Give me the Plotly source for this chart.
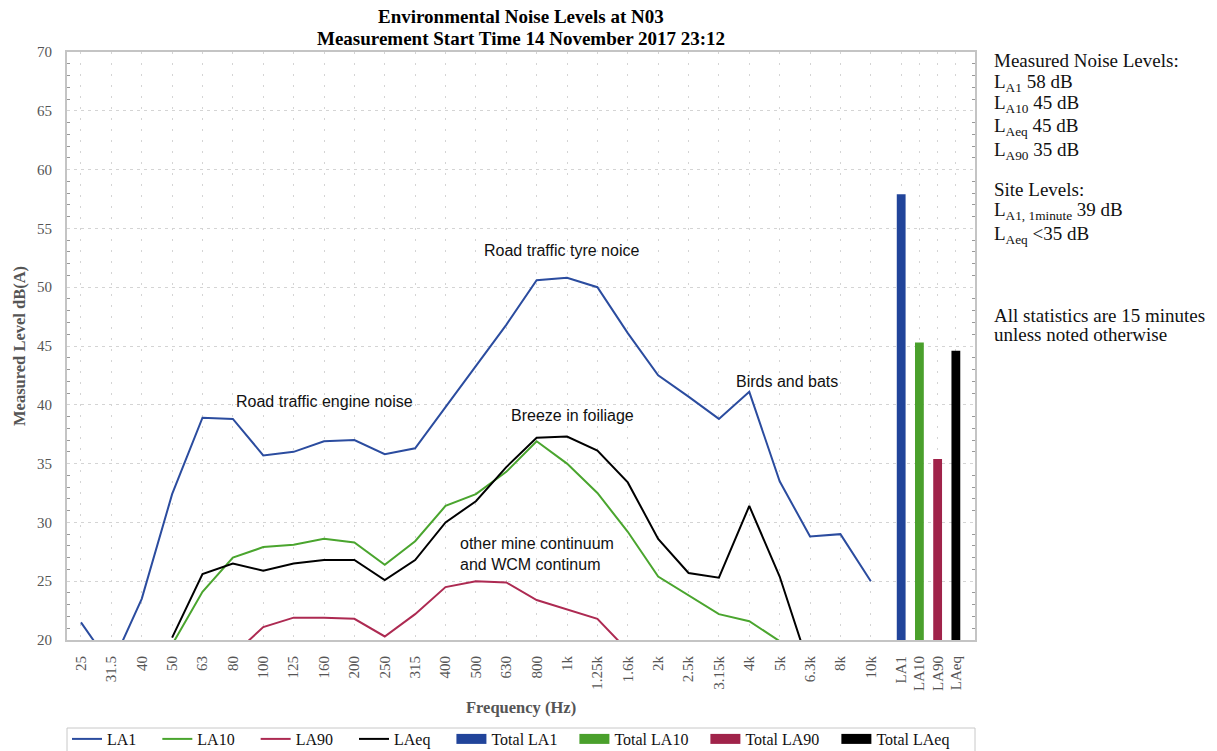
import plotly.graph_objects as go

# ---- data ----
freq_labels = ["25", "31.5", "40", "50", "63", "80", "100", "125", "160", "200",
               "250", "315", "400", "500", "630", "800", "1k", "1.25k", "1.6k",
               "2k", "2.5k", "3.15k", "4k", "5k", "6.3k", "8k", "10k"]
total_labels = ["LA1", "LA10", "LA90", "LAeq"]

la1 = [21.5, 17.8, 23.5, 32.4, 38.9, 38.8, 35.7, 36.0, 36.9, 37.0, 35.8, 36.3,
       39.8, 43.3, 46.8, 50.6, 50.8, 50.0, 46.1, 42.5, 40.7, 38.8, 41.1, 33.5,
       28.8, 29.0, 25.0]
la10 = [None, None, None, 19.6, 24.1, 27.0, 27.9, 28.1, 28.6, 28.3, 26.4, 28.4,
        31.4, 32.4, 34.3, 36.9, 35.0, 32.5, 29.2, 25.4, 23.8, 22.2, 21.6, 19.9,
        None, None, None]
la90 = [None, None, None, None, None, 18.7, 21.1, 21.9, 21.9, 21.8, 20.3, 22.2,
        24.5, 25.0, 24.9, 23.4, 22.6, 21.8, 19.1, None, None, None, None, None,
        None, None, None]
laeq = [None, None, None, 20.2, 25.6, 26.5, 25.9, 26.5, 26.8, 26.8, 25.1, 26.8,
        30.0, 31.8, 34.7, 37.2, 37.3, 36.1, 33.4, 28.6, 25.7, 25.3, 31.4, 25.4,
        17.5, None, None]
totals = [57.9, 45.3, 35.4, 44.6]

# ---- positions / styles ----
freq_x = list(range(len(freq_labels)))
total_x = [27.0, 27.6, 28.2, 28.8]
tick_vals = freq_x + total_x
tick_text = freq_labels + total_labels

line_colors = ["#2b4c9f", "#4aa52e", "#ad2a52", "#000000"]
bar_colors = ["#21449a", "#4aa02c", "#a0234a", "#000000"]

SERIF = "Liberation Serif"
SANS = "Liberation Sans"
NB = "\u00a0"
line_pad = [NB * 4] * 4            # extra spacing after legend entries
total_pad = [NB * 3, NB * 3, NB * 3, ""]

fig = go.Figure()
for name, vals, col, pad in zip(["LA1", "LA10", "LA90", "LAeq"],
                                [la1, la10, la90, laeq], line_colors, line_pad):
    fig.add_trace(go.Scatter(x=freq_x, y=vals, mode="lines", name=name + pad,
                             line=dict(color=col, width=2),
                             connectgaps=False))
for i, (lab, val, col, pad) in enumerate(zip(total_labels, totals, bar_colors, total_pad)):
    fig.add_trace(go.Bar(x=[total_x[i]], y=[val], name="Total " + lab,
                         marker=dict(color=col, line=dict(width=0)),
                         width=0.29, showlegend=False, legendgroup="t" + lab))
    # wide rectangular legend key, as in the original chart
    fig.add_trace(go.Scatter(x=[None], y=[None], mode="lines", name="Total " + lab + pad,
                             line=dict(color=col, width=14), legendgroup="t" + lab,
                             hoverinfo="skip"))

W, H = 1217, 751
L, R, T, B = 67, 975, 52, 640


def px(xp):
    return (xp - L) / (R - L)


def py(yp):
    return (B - yp) / (B - T)


annotations = []
notes = [
    ("Road traffic tyre noice", 15.83, 53.1),
    ("Road traffic engine noise", 8.03, 40.3),
    ("Breeze in foiliage", 16.19, 39.1),
    ("Birds and bats", 23.24, 42.0),
]
for txt, x, y in notes:
    annotations.append(dict(text=txt, x=x, y=y, xref="x", yref="y",
                            showarrow=False, font=dict(family=SANS, size=16, color="#111"),
                            xanchor="center", yanchor="middle"))
annotations.append(dict(text="other mine continuum<br>and WCM continum", x=12.41, y=27.3,
                        xref="x", yref="y", showarrow=False, align="left",
                        font=dict(family=SANS, size=16, color="#111"),
                        xanchor="left", yanchor="middle"))

side = [
    ("Measured Noise Levels:", 61),
    ("L<sub>A1</sub> 58 dB", 83),
    ("L<sub>A10</sub> 45 dB", 104),
    ("L<sub>Aeq</sub> 45 dB", 127),
    ("L<sub>A90</sub> 35 dB", 151),
    ("Site Levels:", 189),
    ("L<sub>A1, 1minute</sub> 39 dB", 211),
    ("L<sub>Aeq</sub> &lt;35 dB", 235),
    ("All statistics are 15 minutes", 315),
    ("unless noted otherwise", 334),
]
for txt, yp in side:
    annotations.append(dict(text=txt, x=px(992), y=py(yp), xref="paper", yref="paper",
                            showarrow=False, xanchor="left", yanchor="middle",
                            font=dict(family=SERIF, size=19, color="#111")))

annotations.append(dict(text="<b>Environmental Noise Levels at N03</b>", x=0.5, y=py(17),
                        xref="paper", yref="paper", showarrow=False, yanchor="middle",
                        font=dict(family=SERIF, size=19, color="#000")))
annotations.append(dict(text="<b>Measurement Start Time 14 November 2017 23:12</b>", x=0.5,
                        y=py(38), xref="paper", yref="paper", showarrow=False,
                        yanchor="middle", font=dict(family=SERIF, size=19, color="#000")))
annotations.append(dict(text="<b>Frequency (Hz)</b>", x=px(521), y=py(707), xref="paper",
                        yref="paper", showarrow=False, yanchor="middle",
                        font=dict(family=SERIF, size=16.5, color="#555")))
annotations.append(dict(text="<b>Measured Level dB(A)</b>", x=px(19), y=py(346),
                        xref="paper", yref="paper", showarrow=False, textangle=-90,
                        xanchor="center", yanchor="middle",
                        font=dict(family=SERIF, size=16.5, color="#555")))

fig.update_layout(
    width=W, height=H,
    margin=dict(l=L, r=W - R, t=T, b=H - B, autoexpand=False),
    paper_bgcolor="white", plot_bgcolor="white",
    showlegend=True,
    legend=dict(orientation="h", x=0, xanchor="left", y=py(722), yanchor="top",
                borderwidth=0, bgcolor="rgba(0,0,0,0)",
                font=dict(family=SERIF, size=16, color="#111"),
                itemwidth=30, tracegroupgap=0, traceorder="normal"),
    shapes=[dict(type="rect", xref="paper", yref="paper", x0=0, x1=1,
                 y0=py(728), y1=py(775), line=dict(color="#c8c8c8", width=1),
                 fillcolor="rgba(0,0,0,0)", layer="below")],
    annotations=annotations,
    barmode="overlay",
)
fig.update_xaxes(
    range=[-0.46, 29.43], tickmode="array", tickvals=tick_vals, ticktext=tick_text,
    tickangle=-90, ticks="", showgrid=True, gridcolor="#d4d4d4", griddash="2px,9px",
    gridwidth=1, showline=True, linecolor="#c4c4c4", linewidth=2, mirror=True,
    tickfont=dict(family=SERIF, size=15, color="#555"), ticklabelstandoff=8,
    zeroline=False, fixedrange=True,
)
fig.update_yaxes(
    range=[20, 70], dtick=5, tick0=0, ticks="", showgrid=True, gridcolor="#d4d4d4",
    griddash="3px,4px", gridwidth=1, showline=True, linecolor="#c4c4c4", linewidth=2,
    mirror="all", tickfont=dict(family=SERIF, size=15, color="#555"),
    ticklabelstandoff=10, zeroline=False,
    minor=dict(dtick=1, ticks="inside", ticklen=3, tickcolor="#999", showgrid=False),
)

fig.write_html("out.html", config={"displayModeBar": False},
               post_script="document.body.style.margin='0px';"
                           "document.body.style.overflow='hidden';")
